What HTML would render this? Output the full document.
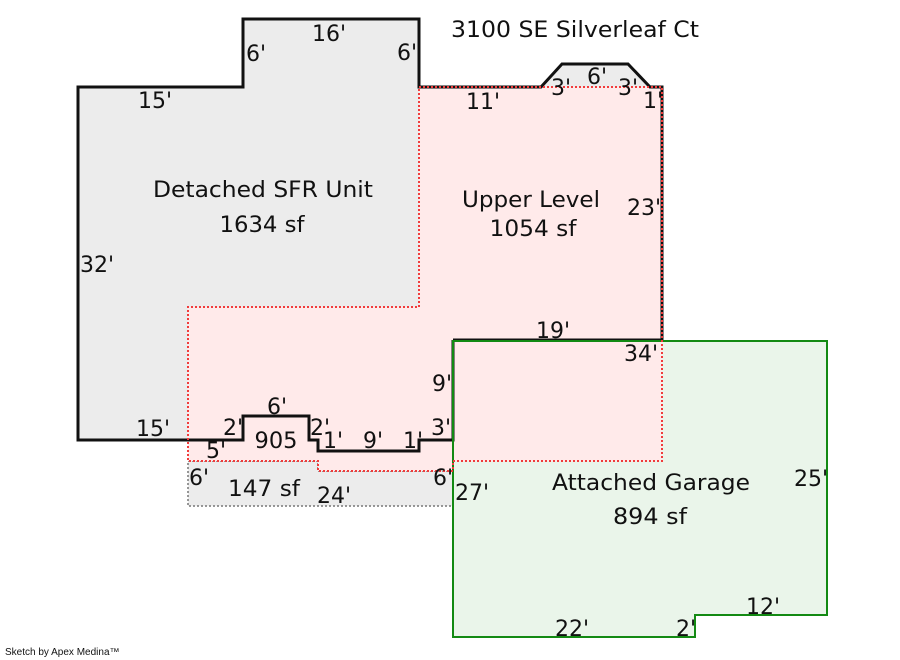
<!DOCTYPE html>
<html><head><meta charset="utf-8"><style>
html,body{margin:0;padding:0;background:#fff;width:900px;height:660px;overflow:hidden}
svg{display:block}
text{font-family:"DejaVu Sans","Liberation Sans",sans-serif;font-size:22px;fill:#111}
</style></head><body>
<svg width="900" height="660" viewBox="0 0 900 660" xmlns="http://www.w3.org/2000/svg">
<!-- main house fill -->
<polygon points="78,87 243,87 243,19 419,19 419,87 541,87 562,64 628,64 650,87 662,87 662,340 453,340 453,440 419,440 419,451 318,451 318,440 309,440 309,416 243,416 243,440 78,440" fill="#ececec"/>
<!-- 147 sf area -->
<polygon points="188,461 318,461 318,471 453,471 453,506 188,506" fill="#ececec" stroke="#777" stroke-width="1.5" stroke-dasharray="2,2"/>
<!-- garage -->
<polygon points="453,341 827,341 827,615 695,615 695,637 453,637" fill="#eaf5ea"/>
<!-- upper level -->
<polygon points="419,87 662,87 662,461 453,461 453,471 318,471 318,461 188,461 188,307 419,307" fill="#ffeaea"/>
<!-- main outline -->
<polyline points="453,340 662,340 662,87 650,87 628,64 562,64 541,87 419,87 419,19 243,19 243,87 78,87 78,440 243,440 243,416 309,416 309,440 318,440 318,451 419,451 419,440 453,440 453,340" fill="none" stroke="#111" stroke-width="3" stroke-linejoin="miter"/>
<!-- garage outline -->
<polygon points="453,341 827,341 827,615 695,615 695,637 453,637" fill="none" stroke="#138a13" stroke-width="2"/>
<!-- upper level outline -->
<polygon points="419,87 662,87 662,461 453,461 453,471 318,471 318,461 188,461 188,307 419,307" fill="none" stroke="#f03c3c" stroke-width="2" stroke-dasharray="2,2"/>

<text x="451" y="37" textLength="248" lengthAdjust="spacingAndGlyphs">3100 SE Silverleaf Ct</text>

<g text-anchor="middle">
<text x="329" y="41">16'</text>
<text x="256" y="61">6'</text>
<text x="407" y="60">6'</text>
<text x="155" y="108">15'</text>
<text x="483" y="109">11'</text>
<text x="561" y="95">3'</text>
<text x="597" y="84">6'</text>
<text x="628" y="95">3'</text>
<text x="653" y="108">1'</text>
<text x="263" y="197" textLength="220" lengthAdjust="spacingAndGlyphs">Detached SFR Unit</text>
<text x="262" y="232" textLength="85" lengthAdjust="spacingAndGlyphs">1634 sf</text>
<text x="531" y="207" textLength="138" lengthAdjust="spacingAndGlyphs">Upper Level</text>
<text x="533" y="236" textLength="87" lengthAdjust="spacingAndGlyphs">1054 sf</text>
<text x="644" y="215">23'</text>
<text x="553" y="338">19'</text>
<text x="641" y="361">34'</text>
<text x="442" y="391">9'</text>
<text x="277" y="414">6'</text>
<text x="153" y="436">15'</text>
<text x="233" y="435">2'</text>
<text x="320" y="435">2'</text>
<text x="276" y="448" textLength="43" lengthAdjust="spacingAndGlyphs">905</text>
<text x="333" y="448">1'</text>
<text x="373" y="448">9'</text>
<text x="413" y="448">1'</text>
<text x="441" y="435">3'</text>
<text x="216" y="458">5'</text>
<text x="199" y="485">6'</text>
<text x="264" y="496" textLength="72" lengthAdjust="spacingAndGlyphs">147 sf</text>
<text x="334" y="503">24'</text>
<text x="443" y="485">6'</text>
<text x="472" y="500">27'</text>
<text x="651" y="490" textLength="198" lengthAdjust="spacingAndGlyphs">Attached Garage</text>
<text x="650" y="524" textLength="74" lengthAdjust="spacingAndGlyphs">894 sf</text>
<text x="811" y="486">25'</text>
<text x="572" y="636">22'</text>
<text x="686" y="636">2'</text>
<text x="763" y="614">12'</text>
</g>
<text x="80" y="272">32'</text>
<text x="5" y="655" style="font-family:'Liberation Sans',sans-serif;font-size:10px">Sketch by Apex Medina™</text>
</svg>
</body></html>
